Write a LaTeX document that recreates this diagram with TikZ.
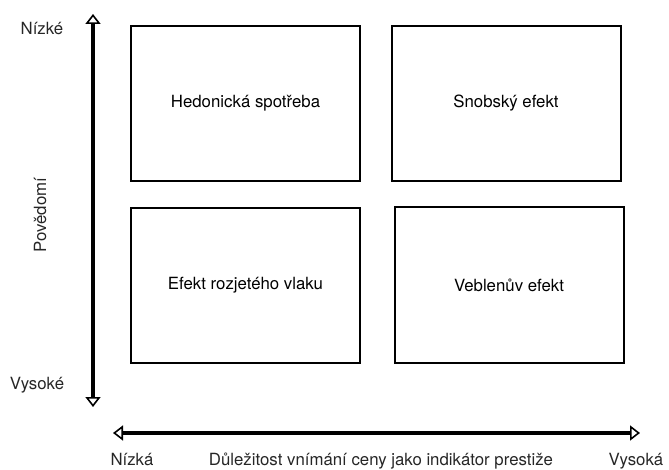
\documentclass[tikz,border=0pt]{standalone}
\usepackage{fontspec}
\setmainfont{TeX Gyre Heros}
\usepackage{tikz}
\usetikzlibrary{arrows.meta}
\tikzset{
  quadbox/.style={draw,line width=2pt,minimum width=229pt,minimum height=155pt,inner sep=0pt,font=\fontsize{16.8}{19}\selectfont},
  axisline/.style={line width=3.8pt,{Triangle[open,length=10pt,width=15pt,line width=1.6pt]}-{Triangle[open,length=10pt,width=15pt,line width=1.6pt]}},
  axislabel/.style={font=\fontsize{16.8}{19}\selectfont,text=black!85,inner sep=1pt}
}

\begin{document}
\begin{tikzpicture}[x=1pt,y=-1pt]
      \useasboundingbox (0,0) rectangle (669,470); %page size

      %QUADRANTS
      \node[quadbox] (hedon) at (245.5,103.5) {Hedonická spotřeba};
      \node[quadbox] (snob) at (506,103.5) {Snobský efekt};
      \node[quadbox] (bandw) at (245.5,285.5) {Efekt rozjetého vlaku};
      \node[quadbox] (vebl) at (509,285) {Veblenův efekt};

      %AXES
      \coordinate (ytop) at (93,14);
      \coordinate (ybot) at (93,407);
      \coordinate (xleft) at (113,433);
      \coordinate (xright) at (640,433);
      \draw[axisline] (ybot) -- (ytop); %vertical axis
      \draw[axisline] (xleft) -- (xright); %horizontal axis

      %LABELS
      \node[axislabel] (ylow) at (42,29) {Nízké};
      \node[axislabel] (yhigh) at (37,385) {Vysoké};
      \node[axislabel,rotate=90] (yname) at (40,215) {Povědomí};
      \node[axislabel,anchor=base] (xlow) at (132,465) {Nízká};
      \node[axislabel,anchor=base] (xhigh) at (636,465) {Vysoká};
      \node[axislabel,anchor=base] (xname) at (381,465) {Důležitost vnímání ceny jako indikátor prestiže};
\end{tikzpicture}
\end{document}
